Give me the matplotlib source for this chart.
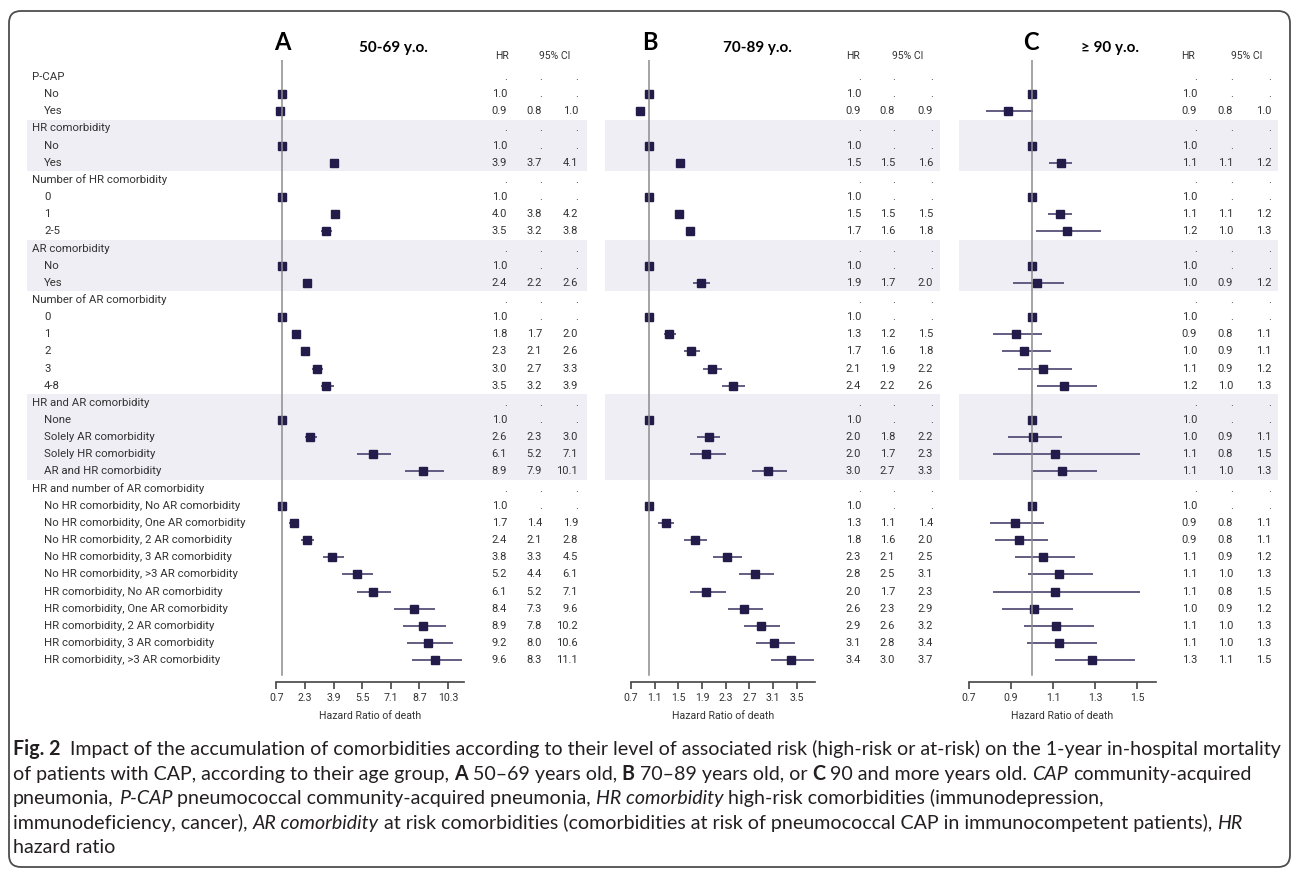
import numpy as np
import matplotlib
matplotlib.use('Agg')
import matplotlib.pyplot as plt
from matplotlib import font_manager as fm
from matplotlib.patches import Rectangle, FancyBboxPatch
from matplotlib.transforms import blended_transform_factory

W, H = 1295, 871
DPI = 100

# ---------------- data ----------------
row_labels = ["P-CAP", "No", "Yes",
              "HR comorbidity", "No", "Yes",
              "Number of HR comorbidity", "0", "1", "2-5",
              "AR comorbidity", "No", "Yes",
              "Number of AR comorbidity", "0", "1", "2", "3", "4-8",
              "HR and AR comorbidity", "None", "Solely AR comorbidity",
              "Solely HR comorbidity", "AR and HR comorbidity",
              "HR and number of AR comorbidity",
              "No HR comorbidity, No AR comorbidity",
              "No HR comorbidity, One AR comorbidity",
              "No HR comorbidity, 2 AR comorbidity",
              "No HR comorbidity, 3 AR comorbidity",
              "No HR comorbidity, >3 AR comorbidity",
              "HR comorbidity, No AR comorbidity",
              "HR comorbidity, One AR comorbidity",
              "HR comorbidity, 2 AR comorbidity",
              "HR comorbidity, 3 AR comorbidity",
              "HR comorbidity, >3 AR comorbidity"]
header_rows = [0, 3, 6, 10, 13, 19, 24]
band_groups = [(3, 5), (10, 12), (19, 23)]

# A: 50-69 y.o.
a_hr = [None, 1.0, 0.9, None, 1.0, 3.9, None, 1.0, 4.0, 3.5, None, 1.0, 2.4, None, 1.0, 1.8, 2.3, 3.0, 3.5,
        None, 1.0, 2.6, 6.1, 8.9, None, 1.0, 1.7, 2.4, 3.8, 5.2, 6.1, 8.4, 8.9, 9.2, 9.6]
a_lo = [None, None, 0.8, None, None, 3.7, None, None, 3.8, 3.2, None, None, 2.2, None, None, 1.7, 2.1, 2.7, 3.2,
        None, None, 2.3, 5.2, 7.9, None, None, 1.4, 2.1, 3.3, 4.4, 5.2, 7.3, 7.8, 8.0, 8.3]
a_hi = [None, None, 1.0, None, None, 4.1, None, None, 4.2, 3.8, None, None, 2.6, None, None, 2.0, 2.6, 3.3, 3.9,
        None, None, 3.0, 7.1, 10.1, None, None, 1.9, 2.8, 4.5, 6.1, 7.1, 9.6, 10.2, 10.6, 11.1]
a_table = ["", "1.0", "0.9 0.8 1.0", "", "1.0", "3.9 3.7 4.1", "", "1.0", "4.0 3.8 4.2", "3.5 3.2 3.8",
           "", "1.0", "2.4 2.2 2.6", "", "1.0", "1.8 1.7 2.0", "2.3 2.1 2.6", "3.0 2.7 3.3", "3.5 3.2 3.9",
           "", "1.0", "2.6 2.3 3.0", "6.1 5.2 7.1", "8.9 7.9 10.1", "", "1.0", "1.7 1.4 1.9", "2.4 2.1 2.8",
           "3.8 3.3 4.5", "5.2 4.4 6.1", "6.1 5.2 7.1", "8.4 7.3 9.6", "8.9 7.8 10.2", "9.2 8.0 10.6",
           "9.6 8.3 11.1"]
a_ticks = [0.7, 2.3, 3.9, 5.5, 7.1, 8.7, 10.3]

# B: 70-89 y.o.
b_hr = [None, 1.0, 0.86, None, 1.0, 1.53, None, 1.0, 1.51, 1.70, None, 1.0, 1.88, None, 1.0, 1.34, 1.72, 2.07,
        2.42, None, 1.0, 2.01, 1.97, 3.02, None, 1.0, 1.29, 1.78, 2.32, 2.80, 1.97, 2.61, 2.89, 3.11, 3.40]
b_lo = [None, None, 0.83, None, None, 1.49, None, None, 1.48, 1.63, None, None, 1.75, None, None, 1.25, 1.60, 1.91,
        2.23, None, None, 1.82, 1.69, 2.74, None, None, 1.16, 1.60, 2.08, 2.53, 1.69, 2.34, 2.61, 2.81, 3.06]
b_hi = [None, None, 0.89, None, None, 1.57, None, None, 1.54, 1.78, None, None, 2.03, None, None, 1.46, 1.86, 2.24,
        2.62, None, None, 2.21, 2.30, 3.33, None, None, 1.43, 1.98, 2.57, 3.11, 2.30, 2.92, 3.21, 3.46, 3.78]
b_table = ["", "1.0", "0.9 0.8 0.9", "", "1.0", "1.5 1.5 1.6", "", "1.0", "1.5 1.5 1.5", "1.7 1.6 1.8",
           "", "1.0", "1.9 1.7 2.0", "", "1.0", "1.3 1.2 1.5", "1.7 1.6 1.8", "2.1 1.9 2.2", "2.4 2.2 2.6",
           "", "1.0", "2.0 1.8 2.2", "2.0 1.7 2.3", "3.0 2.7 3.3", "", "1.0", "1.3 1.1 1.4", "1.8 1.6 2.0",
           "2.3 2.1 2.5", "2.8 2.5 3.1", "2.0 1.7 2.3", "2.6 2.3 2.9", "2.9 2.6 3.2", "3.1 2.8 3.4",
           "3.4 3.0 3.7"]
b_ticks = [0.7, 1.1, 1.5, 1.9, 2.3, 2.7, 3.1, 3.5]

# C: >= 90 y.o.
c_hr = [None, 1.0, 0.884, None, 1.0, 1.137, None, 1.0, 1.132, 1.165, None, 1.0, 1.024, None, 1.0, 0.924, 0.963,
        1.054, 1.154, None, 1.0, 1.003, 1.108, 1.144, None, 1.0, 0.919, 0.938, 1.051, 1.129, 1.111, 1.011,
        1.114, 1.130, 1.287]
c_lo = [None, None, 0.780, None, None, 1.081, None, None, 1.075, 1.020, None, None, 0.911, None, None, 0.816, 0.856,
        0.935, 1.022, None, None, 0.884, 0.816, 1.003, None, None, 0.800, 0.822, 0.919, 0.983, 0.816, 0.856,
        0.962, 0.976, 1.110]
c_hi = [None, None, 1.006, None, None, 1.192, None, None, 1.189, 1.329, None, None, 1.151, None, None, 1.049, 1.089,
        1.192, 1.308, None, None, 1.143, 1.514, 1.308, None, None, 1.057, 1.075, 1.203, 1.292, 1.514, 1.194,
        1.295, 1.311, 1.492]
c_table = ["", "1.0", "0.9 0.8 1.0", "", "1.0", "1.1 1.1 1.2", "", "1.0", "1.1 1.1 1.2", "1.2 1.0 1.3",
           "", "1.0", "1.0 0.9 1.2", "", "1.0", "0.9 0.8 1.1", "1.0 0.9 1.1", "1.1 0.9 1.2", "1.2 1.0 1.3",
           "", "1.0", "1.0 0.9 1.1", "1.1 0.8 1.5", "1.1 1.0 1.3", "", "1.0", "0.9 0.8 1.1", "0.9 0.8 1.1",
           "1.1 0.9 1.2", "1.1 1.0 1.3", "1.1 0.8 1.5", "1.0 0.9 1.2", "1.1 1.0 1.3", "1.1 1.0 1.3",
           "1.3 1.1 1.5"]
c_ticks = [0.7, 0.9, 1.1, 1.3, 1.5]

caption_lines = [
    [("Fig. 2", "b"), ("  Impact of the accumulation of comorbidities according to their level of associated risk "
                       "(high-risk or at-risk) on the 1-year in-hospital mortality", "r")],
    [("of patients with CAP, according to their age group, ", "r"), ("A", "b"), (" 50\u201369 years old, ", "r"),
     ("B", "b"), (" 70\u201389 years old, or ", "r"), ("C", "b"), (" 90 and more years old. ", "r"),
     ("CAP", "i"), (" community-acquired", "r")],
    [("pneumonia, ", "r"), ("P-CAP", "i"), (" pneumococcal community-acquired pneumonia, ", "r"),
     ("HR comorbidity", "i"), (" high-risk comorbidities (immunodepression,", "r")],
    [("immunodeficiency, cancer), ", "r"), ("AR comorbidity", "i"),
     (" at risk comorbidities (comorbidities at risk of pneumococcal CAP in immunocompetent patients), ", "r"),
     ("HR", "i")],
    [("hazard ratio", "r")],
]


def pick_font(*names):
    avail = {f.name for f in fm.fontManager.ttflist}
    for n in names:
        if n in avail:
            return n
    return 'DejaVu Sans'


SMALL_FONT = pick_font('Roboto', 'Liberation Sans', 'DejaVu Sans')
TITLE_FONT = pick_font('Lato', 'Open Sans', 'DejaVu Sans')
CAP_FONT = pick_font('Lato', 'Open Sans', 'Noto Sans', 'DejaVu Sans')

MARK = '#231c4a'
CI_COL = '#575079'
BAND = '#efeef5'
TXT = '#333333'

# vertical layout (pixels from top)
ROW0, ROWH = 77.0, 17.15
AX_TOP, AX_BOT = 60.0, 682.0

panels = [
    dict(hr=a_hr, lo=a_lo, hi=a_hi, table=a_table, ticks=a_ticks, xlim=(0.7, 11.2), px=(276.3, 464.0),
         band=(27, 587), cols=(507, 542, 578), hr_hdr=502, ci_hdr=555, letter='A', letter_x=282,
         sub='50-69 y.o.', sub_x=393),
    dict(hr=b_hr, lo=b_lo, hi=b_hi, table=b_table, ticks=b_ticks, xlim=(0.7, 3.8), px=(630.9, 814.7),
         band=(605, 940), cols=(861, 895, 933), hr_hdr=853, ci_hdr=908, letter='B', letter_x=650,
         sub='70-89 y.o.', sub_x=757),
    dict(hr=c_hr, lo=c_lo, hi=c_hi, table=c_table, ticks=c_ticks, xlim=(0.7, 1.59), px=(969.0, 1155.9),
         band=(959, 1278), cols=(1197, 1233, 1271), hr_hdr=1188, ci_hdr=1247, letter='C', letter_x=1031,
         sub='\u2265 90 y.o.', sub_x=1110),
]

fig = plt.figure(figsize=(W / DPI, H / DPI), dpi=DPI)
fig.patch.set_facecolor('white')

n_rows = len(row_labels)
rows = np.arange(n_rows)

for i, p in enumerate(panels):
    x0, x1 = p['px']
    ax = fig.add_axes([x0 / W, 1 - AX_BOT / H, (x1 - x0) / W, (AX_BOT - AX_TOP) / H])
    ax.patch.set_visible(False)
    ax.set_xlim(*p['xlim'])
    ax.set_ylim((AX_BOT - ROW0) / ROWH, (AX_TOP - ROW0) / ROWH)
    trans = blended_transform_factory(fig.transFigure, ax.transData)

    # shaded groups
    for r0, r1 in band_groups:
        rect = Rectangle((p['band'][0] / W, r0 - 0.5), (p['band'][1] - p['band'][0]) / W, r1 - r0 + 1,
                         transform=trans, facecolor=BAND, edgecolor='none', zorder=-1)
        fig.add_artist(rect)

    # confidence intervals and point estimates
    ci_rows = [r for r in rows if p['lo'][r] is not None]
    ax.hlines(ci_rows, [p['lo'][r] for r in ci_rows], [p['hi'][r] for r in ci_rows],
              color=CI_COL, lw=1.3, zorder=2, clip_on=False)
    pt_rows = [r for r in rows if p['hr'][r] is not None]
    ax.plot([p['hr'][r] for r in pt_rows], pt_rows, 's', ms=5.6, color=MARK, mec=MARK,
            zorder=3, clip_on=False)
    ax.axvline(1.0, ymin=0.011, ymax=1.0, color='#8c8c8c', lw=1.1, zorder=4)

    # axes styling
    for s in ['top', 'left', 'right']:
        ax.spines[s].set_visible(False)
    ax.spines['bottom'].set_color('#444444')
    ax.spines['bottom'].set_linewidth(1.2)
    ax.set_yticks([])
    ax.set_xticks(p['ticks'])
    ax.set_xticklabels([f'{t:.1f}' for t in p['ticks']], fontsize=7.6, family=SMALL_FONT, color=TXT)
    ax.tick_params(axis='x', direction='out', length=5, width=1.2, color='#444444', pad=3)
    ax.set_xlabel('Hazard Ratio of death', fontsize=7.6, family=SMALL_FONT, color=TXT, labelpad=6)

    # table columns
    for r in rows:
        vals = p['table'][r].split()
        vals = vals + ['.'] * (3 - len(vals))
        for k, v in enumerate(vals):
            ax.text(p['cols'][k] / W, r, v, transform=trans, ha='right', va='center',
                    fontsize=8, family=SMALL_FONT, color=TXT)

    # headers
    fig.text(p['hr_hdr'] / W, 1 - 56 / H, 'HR', ha='center', va='center', fontsize=7.5,
             family=SMALL_FONT, color=TXT)
    fig.text(p['ci_hdr'] / W, 1 - 56 / H, '95% CI', ha='center', va='center', fontsize=7.5,
             family=SMALL_FONT, color=TXT)
    fig.text(p['letter_x'] / W, 1 - 42 / H, p['letter'], ha='center', va='center', fontsize=17,
             family=TITLE_FONT, weight='bold', color='black')
    fig.text(p['sub_x'] / W, 1 - 48 / H, p['sub'], ha='center', va='center', fontsize=11,
             family=TITLE_FONT, weight='bold', color='black')

    if i == 0:
        for r in rows:
            x = 32 if r in header_rows else 44
            ax.text(x / W, r, row_labels[r], transform=trans, ha='left', va='center',
                    fontsize=8.2, family=SMALL_FONT, color=TXT)

# frame around the figure
frame = FancyBboxPatch((9, H - 867), 1281, 856, boxstyle='round,pad=0,rounding_size=12',
                       transform=None, facecolor='none', edgecolor='#4d4d4d', lw=1.3, zorder=10)
fig.add_artist(frame)

# caption with mixed styles
renderer = fig.canvas.get_renderer()
STY = {'r': ('normal', 'normal'), 'b': ('bold', 'normal'), 'i': ('normal', 'italic')}


def text_width(txt, size, kind):
    w, s = STY[kind]
    t = fig.text(0, 0, txt, fontsize=size, family=CAP_FONT, weight=w, style=s)
    bb = t.get_window_extent(renderer)
    t.remove()
    return bb.width


def line_width(segs, size):
    sp = text_width('n n', size, 'r') - text_width('nn', size, 'r')
    total = 0
    for txt, kind in segs:
        core = txt.strip(' ')
        total += (len(txt) - len(core)) * sp + text_width(core, size, kind)
    return total


base_size = 12
cap_size = base_size * 1262 / line_width(caption_lines[0], base_size)
space_w = text_width('n n', cap_size, 'r') - text_width('nn', cap_size, 'r')

for j, segs in enumerate(caption_lines):
    x = 13.0
    base_y = 755 + j * 24.5
    for txt, kind in segs:
        lead = len(txt) - len(txt.lstrip(' '))
        trail = len(txt) - len(txt.rstrip(' '))
        core = txt.strip(' ')
        x += lead * space_w
        w, s = STY[kind]
        t = fig.text(x / W, 1 - base_y / H, core, fontsize=cap_size, family=CAP_FONT, weight=w, style=s,
                     ha='left', va='baseline', color='#231f20')
        x += t.get_window_extent(renderer).width + trail * space_w

fig.savefig('out.png', dpi=DPI)
